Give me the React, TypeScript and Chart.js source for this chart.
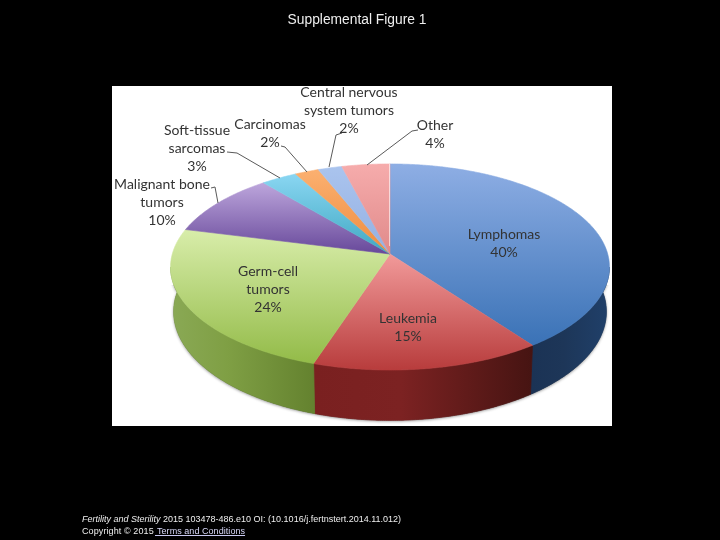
import React, { useEffect, useRef } from "react";
import { Chart, registerables } from "chart.js";

Chart.register(...registerables);

const categories = ["Lymphomas", "Leukemia", "Germ-cell tumors", "Malignant bone tumors", "Soft-tissue sarcomas", "Carcinomas", "Central nervous system tumors", "Other"];
const shares = [40, 15, 24, 10, 3, 2, 2, 4];
const baseColors = ["#5b8bd0", "#d86a6a", "#b8d87e", "#8f76b8", "#6cc4dc", "#f2a566", "#a6bfee", "#eb9f9f"];
const faceTop = ["#8eaee4", "#f29a9a", "#d8edaa", "#bda6dc", "#8ad6f2", "#fbb070", "#aac4ee", "#f6acac"];
const faceBottom = ["#3a72b6", "#b83c3c", "#93bb48", "#67489a", "#3fa8c2", "#ee8c40", "#94b0e2", "#e08a8a"];
const wallLeft = ["#1b3355", "#7a2020", "#8aa955", "#5a4080", "#2a8098", "#b06020", "#6080b0", "#a06060"];
const wallMid = ["#1d3658", "#7c2222", "#7f9f44", "#4a3070", "#207088", "#a05010", "#507090", "#905050"];
const wallRight = ["#20406a", "#461412", "#64822f", "#3a2060", "#106070", "#904000", "#406080", "#804040"];

const titleText = "Supplemental Figure 1";
const citation = ["Fertility and Sterility", " 2015 103478-486.e10 OI: (10.1016/j.fertnstert.2014.11.012)"];
const copyright = "Copyright © 2015";
const terms = "Terms and Conditions";

const sliceLabels = [
  { lines: ["Lymphomas", "40%"], x: 504, y: 234 },
  { lines: ["Leukemia", "15%"], x: 408, y: 318 },
  { lines: ["Germ-cell", "tumors", "24%"], x: 268, y: 271 },
  { lines: ["Malignant bone", "tumors", "10%"], x: 162, y: 184 },
  { lines: ["Soft-tissue", "sarcomas", "3%"], x: 197, y: 130 },
  { lines: ["Carcinomas", "2%"], x: 270, y: 124 },
  { lines: ["Central nervous", "system tumors", "2%"], x: 349, y: 92 },
  { lines: ["Other", "4%"], x: 435, y: 125 },
];
const leaderLines = [
  [[211, 188], [215, 187], [218, 203]],
  [[227, 152], [237, 153], [280, 178]],
  [[281, 146], [285, 147], [307, 172]],
  [[342, 133], [336, 135], [329, 167]],
  [[418, 130], [412, 131], [367, 165]],
];

// perspective of the tilted disc
const APEX_X = 390, APEX_Y = 254, RX = 217.7, RY = 101.4, TILT = 0.126, DEPTH = 44, SHRINK = 0.986;
const project = (a: number) => {
  const u = Math.cos(a), v = Math.sin(a), w = 1 - TILT * v;
  return { x: APEX_X + (RX * u) / w, y: APEX_Y + (RY * v) / w, d: DEPTH / w };
};

const piePlugin = {
  id: "tiltedPie",
  beforeDraw(chart: any) {
    const c = chart.ctx;
    c.save();
    c.fillStyle = "#000";
    c.fillRect(0, 0, 720, 540);
    c.fillStyle = "#fff";
    c.fillRect(112, 86, 500, 340);
    c.restore();
  },
  beforeDatasetsDraw(chart: any) {
    const c = chart.ctx;
    const arcs = chart.getDatasetMeta(0).data;
    const STEPS = 2; // per degree
    const outline = (arc: any) => {
      const n = Math.max(2, Math.ceil(((arc.endAngle - arc.startAngle) * 180) / Math.PI * STEPS));
      const pts = [];
      for (let i = 0; i <= n; i++) pts.push(project(arc.startAngle + ((arc.endAngle - arc.startAngle) * i) / n));
      return pts;
    };
    const wallPath = (pts: any[]) => {
      c.beginPath();
      pts.forEach((p, k) => (k ? c.lineTo(p.x, p.y) : c.moveTo(p.x, p.y)));
      for (let k = pts.length - 1; k >= 0; k--) c.lineTo(APEX_X + (pts[k].x - APEX_X) * SHRINK, pts[k].y + pts[k].d);
      c.closePath();
    };
    c.save();
    // soft shadow under the front of the disc only
    c.save();
    c.beginPath();
    c.rect(112, 285, 500, 141);
    c.clip();
    c.shadowColor = "rgba(0,0,0,0.45)";
    c.shadowBlur = 3;
    c.shadowOffsetY = 1;
    c.fillStyle = "#444";
    arcs.forEach((arc: any) => {
      wallPath(outline(arc));
      c.fill();
    });
    c.restore();
    // side walls: only the front of the rim can be seen
    c.save();
    c.beginPath();
    c.rect(112, 267, 500, 159);
    c.clip();
    arcs.forEach((arc: any, i: number) => {
      const pts = outline(arc);
      const vis = pts.filter((p) => p.y > 262);
      if (!vis.length) return;
      const xs = vis.map((p) => p.x);
      const g = c.createLinearGradient(Math.min(...xs), 0, Math.max(...xs), 0);
      g.addColorStop(0, wallLeft[i]);
      g.addColorStop(0.4, wallMid[i]);
      g.addColorStop(1, wallRight[i]);
      c.fillStyle = g;
      c.strokeStyle = g;
      c.lineWidth = 0.8;
      wallPath(pts);
      c.fill();
      c.stroke();
    });
    c.restore();
    // top faces
    arcs.forEach((arc: any, i: number) => {
      const pts = outline(arc);
      const ys = pts.map((p) => p.y).concat(APEX_Y);
      const g = c.createLinearGradient(0, Math.min(...ys), 0, Math.max(...ys));
      g.addColorStop(0, faceTop[i]);
      g.addColorStop(1, faceBottom[i]);
      c.fillStyle = g;
      c.strokeStyle = g;
      c.lineWidth = 0.6;
      c.beginPath();
      c.moveTo(APEX_X, APEX_Y);
      pts.forEach((p) => c.lineTo(p.x, p.y));
      c.closePath();
      c.fill();
      c.stroke();
    });
    // pale seam where the last slice meets the first
    const seam = project(arcs[arcs.length - 1].endAngle);
    c.strokeStyle = "rgba(255,255,255,0.6)";
    c.lineWidth = 1;
    c.beginPath();
    c.moveTo(APEX_X - 0.5, APEX_Y - 8);
    c.lineTo(seam.x - 0.5, seam.y);
    c.stroke();
    c.restore();
    return false;
  },
  afterDraw(chart: any) {
    const c = chart.ctx;
    c.save();
    // leader lines
    c.strokeStyle = "#5a5a5a";
    c.lineWidth = 1;
    leaderLines.forEach((line) => {
      c.beginPath();
      line.forEach(([x, y], k) => (k ? c.lineTo(x, y) : c.moveTo(x, y)));
      c.stroke();
    });
    // slice labels
    c.fillStyle = "#333";
    c.font = "14px Lato";
    c.textAlign = "center";
    c.textBaseline = "middle";
    sliceLabels.forEach((l) => l.lines.forEach((t, k) => c.fillText(t, l.x, l.y + k * 18)));
    // page text
    c.fillStyle = "#eee";
    c.textBaseline = "alphabetic";
    c.textAlign = "center";
    c.font = "13.8px 'Liberation Sans'";
    c.fillText(titleText, 357, 24);
    c.textAlign = "left";
    c.font = "italic 9px 'Liberation Sans'";
    c.fillText(citation[0], 82, 522);
    const w0 = c.measureText(citation[0]).width;
    c.font = "9px 'Liberation Sans'";
    c.fillText(citation[1], 82 + w0, 522);
    c.letterSpacing = "0.1px";
    c.fillText(copyright, 82, 534);
    c.letterSpacing = "0.05px";
    c.fillStyle = "#d8d8f8";
    c.fillText(terms, 157, 534);
    const w1 = c.measureText(terms).width;
    c.strokeStyle = "#c8c8f0";
    c.beginPath();
    c.moveTo(155, 535.5);
    c.lineTo(157 + w1, 535.5);
    c.stroke();
    c.restore();
  },
};

export default function App() {
  const ref = useRef<HTMLCanvasElement>(null);
  useEffect(() => {
    const chart = new Chart(ref.current!, {
      type: "pie",
      data: { labels: categories, datasets: [{ data: shares, backgroundColor: baseColors, borderWidth: 0 }] },
      options: {
        animation: false,
        responsive: false,
        plugins: { legend: { display: false }, tooltip: { enabled: false } },
      },
      plugins: [piePlugin],
    } as any);
    return () => chart.destroy();
  }, []);
  return (
    <div style={{ position: "fixed", left: 0, top: 0, width: 720, height: 540, background: "#000" }}>
      <canvas ref={ref} width={720} height={540} style={{ display: "block" }} />
    </div>
  );
}
